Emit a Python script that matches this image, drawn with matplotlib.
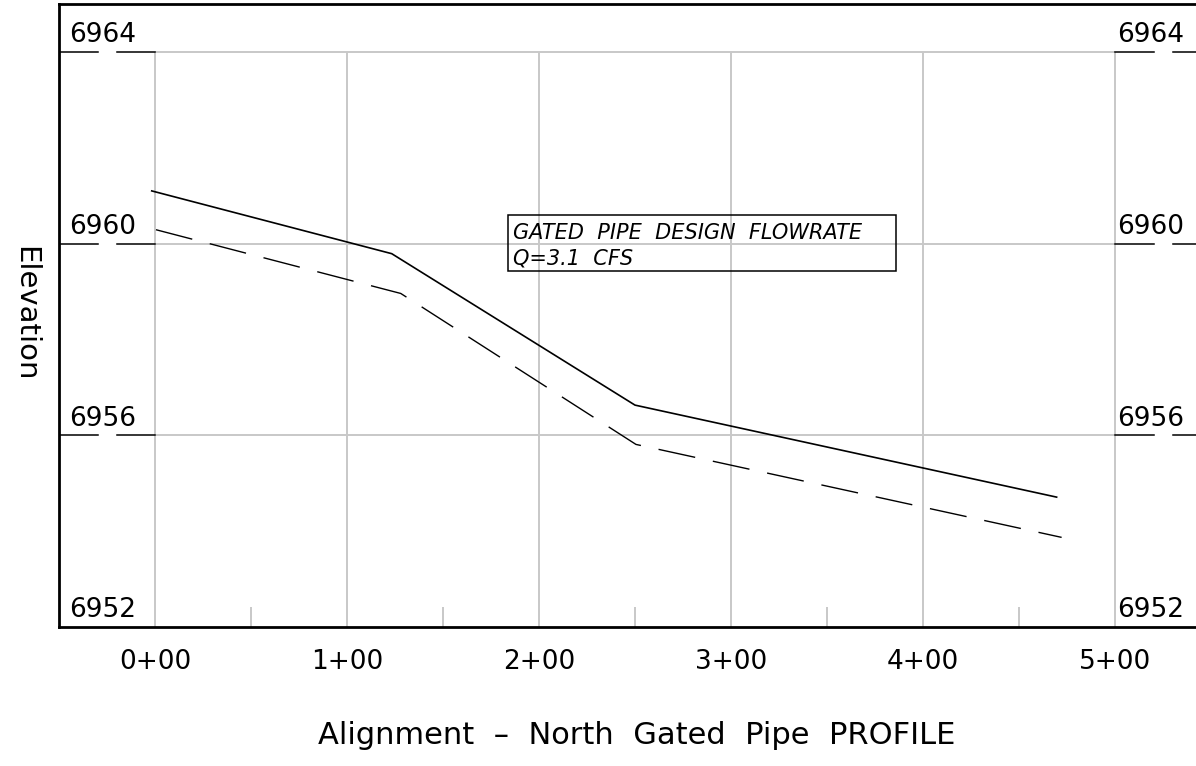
import matplotlib
matplotlib.use("Agg")
import matplotlib.pyplot as plt
from matplotlib.patches import Rectangle

# profile data (station in ft, elevation in ft)
hgl_sta = [-1.7, 123.3, 250.0, 469.6]
hgl_elev = [6961.10, 6959.79, 6956.63, 6954.71]
pipe_sta = [0.5, 128.0, 250.5, 472.2]
pipe_elev = [6960.29, 6958.96, 6955.81, 6953.87]

sta_ticks = [0, 100, 200, 300, 400, 500]
sta_labels = ["0+00", "1+00", "2+00", "3+00", "4+00", "5+00"]
sta_minor = [50, 150, 250, 350, 450]
elev_ticks = [6952, 6956, 6960, 6964]
elev_labels = ["6952", "6956", "6960", "6964"]

note_lines = ["GATED  PIPE  DESIGN  FLOWRATE", "Q=3.1  CFS"]

fig = plt.figure(figsize=(11.96, 7.66), dpi=100)
ax = fig.add_axes([59/1196, 139/766, 1152/1196, 623/766])
ax.set_xlim(-50, 550)
ax.set_ylim(6952, 6965)

grid_c = "#c8c8c8"
# grid
ax.vlines(sta_ticks, elev_ticks[0], elev_ticks[-1], color=grid_c, lw=1.4, zorder=1)
ax.hlines(elev_ticks[1:], sta_ticks[0], sta_ticks[-1], color=grid_c, lw=1.4, zorder=1)
ax.vlines(sta_minor, 6952, 6952.42, color=grid_c, lw=1.4, zorder=1)

# left / right elevation ticks with CAD-style gap
for e, lab in zip(elev_ticks, elev_labels):
    if e != elev_ticks[0]:
        ax.plot([-50, -29.7], [e, e], color="black", lw=1.1)
        ax.plot([-19.8, 0], [e, e], color="black", lw=1.1)
        ax.plot([500, 520.3], [e, e], color="black", lw=1.1)
        ax.plot([530.2, 550], [e, e], color="black", lw=1.1)
    ax.text(-44.8, e + 0.2, lab, fontsize=19, ha="left", va="baseline")
    ax.text(501.2, e + 0.2, lab, fontsize=19, ha="left", va="baseline")

# profile lines
ax.plot(hgl_sta, hgl_elev, color="black", lw=1.2, zorder=3)
ax.plot(pipe_sta, pipe_elev, color="black", lw=1.0, dashes=(27, 13), zorder=3)

# note box
ax.add_patch(Rectangle((183.9, 6959.43), 202.0, 1.17, fill=False,
                       edgecolor="black", lw=1.1, zorder=4))
ax.text(186.5, 6960.10, note_lines[0], fontsize=15, style="italic",
        ha="left", va="baseline", zorder=5)
ax.text(186.5, 6959.56, note_lines[1], fontsize=15, style="italic",
        ha="left", va="baseline", zorder=5)

ax.set_xticks(sta_ticks)
ax.set_xticklabels(sta_labels, fontsize=19)
ax.set_yticks([])
ax.tick_params(axis="x", length=0, pad=16)

for s in ["left", "bottom", "top"]:
    ax.spines[s].set_linewidth(2.0)
ax.spines["right"].set_visible(False)

fig.text(637/1196, 1 - 735/766, "Alignment  \u2013  North  Gated  Pipe  PROFILE",
         fontsize=22, ha="center", va="center")
fig.text(25/1196, 1 - 314/766, "Elevation", rotation=-90, fontsize=21,
         ha="center", va="center")

fig.savefig("out.png", dpi=100)
